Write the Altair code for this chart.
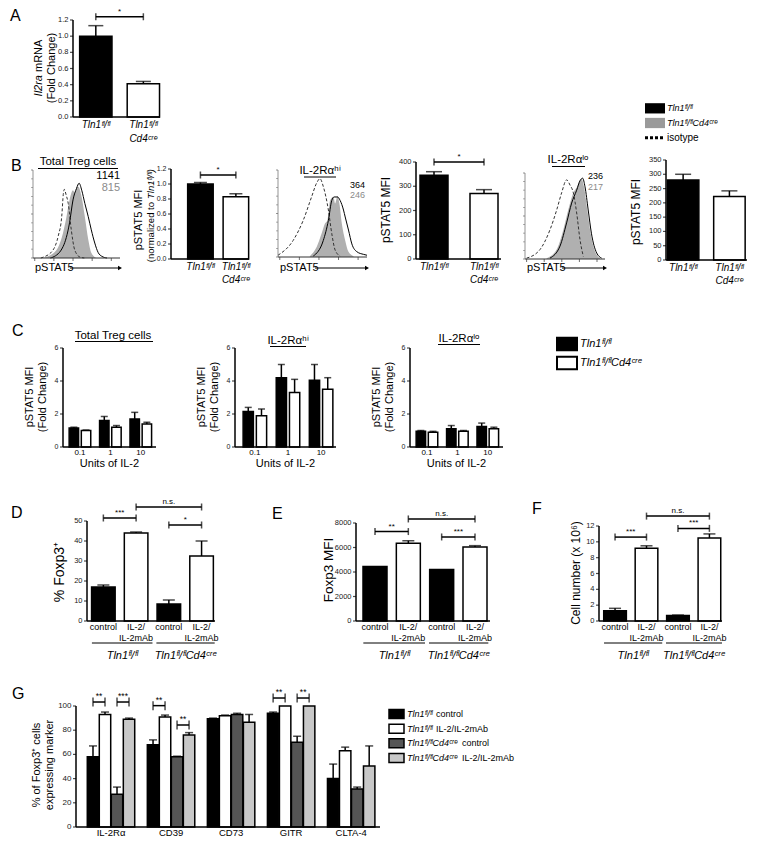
import altair as alt
import pandas as pd

W, H = 748, 832
OX, OY = 8, 8
FONT = "Liberation Sans"

TLN = "Tln1ᶠˡ/ᶠˡ"
CRE = "Cd4ᶜʳᵉ"
TLNCRE = TLN + CRE
HI = "IL-2Rαʰⁱ"
LO = "IL-2Rαˡᵒ"

# ---------------- DATA ----------------
# Panel A
a_labels = [TLN, TLN + "\n" + CRE]
a_vals = [1.0, 0.41]
a_errs = [0.13, 0.03]
a_yticks = [0, 0.2, 0.4, 0.6, 0.8, 1.0, 1.2]
a_ytick_labels = ["0.0", "0.2", "0.4", "0.6", "0.8", "1.0", "1.2"]

# Panel B bar charts
b_labels = [TLN, TLN + "\n" + CRE]
b2_vals = [1.0, 0.83]
b2_errs = [0.02, 0.04]
b2_yticks = [0, 0.2, 0.4, 0.6, 0.8, 1.0, 1.2]
b2_ytick_labels = ["0.0", "0.2", "0.4", "0.6", "0.8", "1.0", "1.2"]
b4_vals = [345, 270]
b4_errs = [15, 16]
b4_yticks = [0, 100, 200, 300, 400]
b6_vals = [280, 222]
b6_errs = [20, 20]
b6_yticks = [0, 50, 100, 150, 200, 250, 300, 350]
b_mfi_wt = ["1141", "364", "236"]
b_mfi_ko = ["815", "246", "217"]

# Panel B histograms (channel position 0-100, % of max)
h1_iso_x = [9, 12, 23, 29, 33, 35, 36, 38, 40.5, 44, 48, 54, 59]
h1_iso_y = [0, 1, 9, 25, 47, 74, 78, 72, 62, 32, 9, 1, 0]
h1_ko_x = [12, 15, 27, 33, 38.5, 42, 46, 48, 50, 52, 55.8, 59.6, 63.5, 67, 73]
h1_ko_y = [0, 1, 9, 23, 47, 66, 77, 74, 80, 81, 70, 47, 21, 6, 0]
h1_wt_x = [20, 23, 34.6, 42, 46, 50, 53, 56, 59.6, 63.5, 67, 71, 75, 79, 85]
h1_wt_y = [0, 1, 13, 40, 66, 79, 85, 77, 62, 47, 32, 17, 6, 2, 0]

h2_iso_x = [0, 17, 28.3, 37.7, 43.4, 47.2, 50.9, 56.6, 60.4, 64.2, 69.8]
h2_iso_y = [2, 19, 42, 69, 85, 90, 81, 54, 27, 8, 1]
h2_ko_x = [35.8, 43.4, 49, 52.8, 55.5, 58.5, 62.3, 64.2, 66.8, 69, 71.7, 75.5, 79.2, 84.9]
h2_ko_y = [1, 11.5, 27, 38.5, 42, 65, 69, 61.5, 70, 61.5, 38.5, 19, 6, 1]
h2_wt_x = [39.6, 50.9, 56.6, 60.4, 63, 66.8, 69.8, 73.6, 75.5, 79.2, 83, 88.7, 96.2, 100]
h2_wt_y = [1, 19, 42, 65, 69, 69, 65, 54, 46, 31, 15, 6, 3, 2]

h3_iso_x = [2, 18.75, 31.25, 39.6, 45.8, 52, 56.25, 60.4, 64.6, 68.75, 72.9]
h3_iso_y = [1, 11, 34, 57, 77, 92, 86, 77, 53.5, 22.5, 3]
h3_ko_x = [27, 39.6, 47.9, 54, 60.4, 64.6, 68.75, 70.8, 73.75, 77.9, 82, 87.5, 93.75]
h3_ko_y = [1, 11, 34, 57, 77, 83, 92, 93, 84, 57, 30, 9, 1]
h3_wt_x = [31.25, 43.75, 52, 58.3, 64.6, 68.75, 72, 75, 79, 83, 89.6, 95.8]
h3_wt_y = [1, 15, 42, 65, 80, 91, 94, 84, 57, 30, 7, 1]
hist_ticks = [2, 24, 46, 68, 90]

# Panel C
c_doses = ["0.1", "1", "10"]
c_yticks = [0, 2, 4, 6]
c1_wt = [1.15, 1.6, 1.7]
c1_wt_err = [0.05, 0.25, 0.4]
c1_ko = [1.0, 1.2, 1.4]
c1_ko_err = [0.03, 0.1, 0.1]
c2_wt = [2.15, 4.2, 4.05]
c2_wt_err = [0.25, 0.8, 0.95]
c2_ko = [1.9, 3.3, 3.5]
c2_ko_err = [0.4, 0.8, 0.7]
c3_wt = [0.95, 1.1, 1.25]
c3_wt_err = [0.05, 0.2, 0.2]
c3_ko = [0.9, 0.95, 1.1]
c3_ko_err = [0.05, 0.05, 0.1]

# Panels D, E, F
def_conditions = ["control", "IL-2/\nIL-2mAb", "control", "IL-2/\nIL-2mAb"]
def_genotypes = [TLN, TLNCRE]
d_vals = [17, 44, 8.5, 32.5]
d_errs = [1, 0.5, 2, 7.5]
d_yticks = [0, 10, 20, 30, 40, 50]
d_sig = [(0, 1, 51.5, "***"), (1, 3, 57, "n.s."), (2, 3, 48, "*")]
e_vals = [4450, 6350, 4200, 6050]
e_errs = [0, 200, 0, 100]
e_yticks = [0, 2000, 4000, 6000, 8000]
e_sig = [(0, 1, 7300, "**"), (1, 3, 8330, "n.s."), (2, 3, 6860, "***")]
f_vals = [1.3, 9.2, 0.7, 10.5]
f_errs = [0.3, 0.3, 0.05, 0.5]
f_yticks = [0, 2, 4, 6, 8, 10, 12]
f_sig = [(0, 1, 10.6, "***"), (1, 3, 13.25, "n.s."), (2, 3, 11.7, "***")]

# Panel G
g_markers = ["IL-2Rα", "CD39", "CD73", "GITR", "CLTA-4"]
g_groups = [TLN + " control", TLN + " IL-2/IL-2mAb", TLNCRE + " control", TLNCRE + " IL-2/IL-2mAb"]
g_wt_ctrl = [58, 68, 89.5, 94, 40]
g_wt_ctrl_err = [9, 4, 0.5, 1, 12]
g_wt_il2 = [93, 91, 92, 100, 63]
g_wt_il2_err = [2, 1.5, 0.5, 0, 3]
g_ko_ctrl = [27, 58, 93, 70, 31.5]
g_ko_ctrl_err = [6, 0.5, 1, 5, 1.5]
g_ko_il2 = [89, 76, 86.5, 100, 50.5]
g_ko_il2_err = [1, 2, 6.5, 0, 16.5]
g_yticks = [0, 20, 40, 60, 80, 100]
g_sig = [(0, 0, 1, 103.3, "**"), (0, 2, 3, 103.3, "***"), (1, 0, 1, 100.3, "**"),
         (1, 2, 3, 84.3, "**"), (3, 0, 1, 106.6, "**"), (3, 2, 3, 106.6, "**")]

# ---------------- HELPERS ----------------
def px(x):
    return x - OX


def py(y):
    return y - OY


def sx(d0, d1, r0, r1):
    return alt.Scale(domain=[d0, d1], range=[px(r0), px(r1)], nice=False, zero=False)


def sy(d0, d1, rbot, rtop):
    return alt.Scale(domain=[d0, d1], range=[py(rbot), py(rtop)], nice=False, zero=False)


def Xq(f, xs):
    return alt.X(f, type="quantitative", scale=xs, axis=None)


def Yq(f, ys):
    return alt.Y(f, type="quantitative", scale=ys, axis=None)


def y_axis(xs, ys, xd, ticks, labels=None, size=7.5, lw=1.5, tick=3, color="black"):
    """Axis line, outward ticks and labels drawn through the panel's own scales."""
    out = [alt.Chart(pd.DataFrame({"x": [xd], "a": [ticks[0]], "b": [ticks[-1]]})).mark_rule(
        color=color, strokeWidth=lw).encode(x=Xq("x", xs), y=Yq("a", ys), y2="b:Q")]
    tdf = pd.DataFrame({"x": [xd] * len(ticks), "v": ticks,
                        "lab": labels if labels is not None else [str(t) for t in ticks]})
    out.append(alt.Chart(tdf).mark_tick(orient="horizontal", size=tick, thickness=max(lw * 0.8, 0.8),
                                        color=color, xOffset=-tick / 2).encode(
        x=Xq("x", xs), y=Yq("v", ys)))
    if labels is not None or size > 0:
        out.append(alt.Chart(tdf).mark_text(align="right", baseline="middle", dx=-(tick + 1.5),
                                            fontSize=size, color="#1a1a1a", font=FONT).encode(
            x=Xq("x", xs), y=Yq("v", ys), text="lab:N"))
    return out


def x_axis(xs, ys, d0, d1, y0=0, lw=1.5, color="black"):
    return alt.Chart(pd.DataFrame({"a": [d0], "b": [d1], "y": [y0]})).mark_rule(
        color=color, strokeWidth=lw).encode(x=Xq("a", xs), x2="b:Q", y=Yq("y", ys))


def text(s, x, y, size=10, align="center", baseline="middle", angle=0, style="normal",
         weight="normal", color="black"):
    return alt.Chart(pd.DataFrame({"t": [s]})).mark_text(
        fontSize=size, align=align, baseline=baseline, angle=angle, fontStyle=style,
        fontWeight=weight, color=color, font=FONT).encode(
        x=alt.value(px(x)), y=alt.value(py(y)), text="t:N")


def hline(x0, x1, y, width=1.0, color="black"):
    return alt.Chart(pd.DataFrame({"a": [0]})).mark_rule(color=color, strokeWidth=width).encode(
        x=alt.value(px(x0)), x2=alt.value(px(x1)), y=alt.value(py(y)))


def bar_df(pos, vals, errs, grps):
    return pd.DataFrame({"pos": pos, "val": vals, "err": errs, "grp": grps,
                         "top": [v + e for v, e in zip(vals, errs)], "zero": [0] * len(vals)})


def sig_df(rows):
    return pd.DataFrame({"a": [r[0] for r in rows], "b": [r[1] for r in rows],
                         "lvl": [r[2] for r in rows], "lab": [r[3] for r in rows]})


def bars_panel(df, xs, ys, hw, capw, gdom, gcol, br=None, bcap=7, bfont=8, lw=1.5):
    fill = alt.Fill("grp:N", scale=alt.Scale(domain=gdom, range=gcol), legend=None)
    rect = alt.Chart(df).transform_calculate(
        x0=f"datum.pos - {hw}", x1=f"datum.pos + {hw}").mark_rect(
        stroke="black", strokeWidth=lw).encode(
        x=Xq("x0", xs), x2="x1:Q", y=Yq("val", ys), y2="zero:Q", fill=fill)
    eb = alt.Chart(df).transform_filter("datum.err > 0")
    erule = eb.mark_rule(color="black", strokeWidth=lw).encode(
        x=Xq("pos", xs), y=Yq("val", ys), y2="top:Q")
    ecap = eb.mark_tick(orient="horizontal", size=capw, thickness=lw, color="black").encode(
        x=Xq("pos", xs), y=Yq("top", ys))
    parts = [rect, erule, ecap]
    if br is not None:
        bb = alt.Chart(br).transform_calculate(mid="(datum.a + datum.b) / 2")
        parts += [
            bb.mark_rule(color="black", strokeWidth=lw).encode(x=Xq("a", xs), x2="b:Q", y=Yq("lvl", ys)),
            bb.mark_tick(orient="vertical", size=bcap, thickness=lw, color="black").encode(
                x=Xq("a", xs), y=Yq("lvl", ys)),
            bb.mark_tick(orient="vertical", size=bcap, thickness=lw, color="black").encode(
                x=Xq("b", xs), y=Yq("lvl", ys)),
            bb.mark_text(fontSize=bfont, dy=-3, baseline="alphabetic", font=FONT).encode(
                x=Xq("mid", xs), y=Yq("lvl", ys), text="lab:N"),
        ]
    return parts


def xlab_layer(pos, labels, xs, ytop, size=9, style="normal", lh=11):
    df = pd.DataFrame({"pos": pos, "lab": labels})
    return alt.Chart(df).mark_text(fontSize=size, fontStyle=style, baseline="top", lineBreak="\n",
                                   lineHeight=lh, font=FONT, color="black").encode(
        x=Xq("pos", xs), y=alt.value(py(ytop)), text="lab:N")


def hist_panel(iso_x, iso_y, ko_x, ko_y, wt_x, wt_y, x0, x1, ybot, ytop):
    xs = sx(0, 100, x0, x1)
    ys = sy(0, 100, ybot, ytop)
    ko = alt.Chart(pd.DataFrame({"u": ko_x, "h": ko_y})).mark_area(
        color="#b0b0b0", interpolate="monotone").encode(x=Xq("u", xs), y=Yq("h", ys))
    iso = alt.Chart(pd.DataFrame({"u": iso_x, "h": iso_y})).mark_line(
        color="#333", strokeDash=[3, 2], strokeWidth=1, interpolate="monotone").encode(
        x=Xq("u", xs), y=Yq("h", ys))
    wt = alt.Chart(pd.DataFrame({"u": wt_x, "h": wt_y})).mark_line(
        color="black", strokeWidth=1, interpolate="monotone").encode(x=Xq("u", xs), y=Yq("h", ys))
    out = [ko, iso, wt]
    out += y_axis(xs, ys, 0, list(range(0, 101, 10)), labels=[""] * 11, size=1, lw=0.7, tick=2,
                  color="#666")
    out.append(x_axis(xs, ys, 0, 100, lw=1, color="#333"))
    out.append(alt.Chart(pd.DataFrame({"v": hist_ticks, "y": [0] * len(hist_ticks)})).mark_tick(
        orient="vertical", size=3, thickness=1, color="#333", yOffset=1.5).encode(
        x=Xq("v", xs), y=Yq("y", ys)))
    return out


def pstat5_label(x0, x1, y):
    tri = alt.Chart(pd.DataFrame({"a": [0]})).mark_point(
        shape="triangle-right", filled=True, size=22, color="black", opacity=1).encode(
        x=alt.value(px(x1)), y=alt.value(py(y)))
    return [text("pSTAT5", x0 + 2, y, size=11, align="left"), hline(x0 + 37, x1, y, 1), tri]


layers = []

# ---------------- PANEL LETTERS ----------------
for lab, x, y in [("A", 10, 21), ("B", 11, 171), ("C", 12, 336), ("D", 11, 518),
                  ("E", 272, 519), ("F", 532, 514), ("G", 12, 699)]:
    layers.append(text(lab, x, y, size=16, align="left", baseline="alphabetic"))

# ---------------- PANEL A ----------------
xsA = sx(-0.48, 1.35, 73, 160)
ysA = sy(0, 1.2, 117, 20)
layers += bars_panel(bar_df([0, 1], a_vals, a_errs, ["wt", "ko"]), xsA, ysA, hw=0.34, capw=15,
                     gdom=["wt", "ko"], gcol=["black", "white"], br=sig_df([(0, 1, 1.24, "*")]))
layers += y_axis(xsA, ysA, -0.48, a_yticks, a_ytick_labels)
layers.append(x_axis(xsA, ysA, -0.48, 1.35))
layers.append(xlab_layer([0, 1], a_labels, xsA, 120, size=10, style="italic", lh=14))
layers.append(text("Il2ra", 39, 75, size=11, angle=270, style="italic", align="right"))
layers.append(text("mRNA", 39, 72, size=11, angle=270, align="left"))
layers.append(text("(Fold Change)", 52, 68, size=11, angle=270))

# ---------------- PANEL B ----------------
hist_specs = [
    (h1_iso_x, h1_iso_y, h1_ko_x, h1_ko_y, h1_wt_x, h1_wt_y, 33, 120, 258, 170),
    (h2_iso_x, h2_iso_y, h2_ko_x, h2_ko_y, h2_wt_x, h2_wt_y, 278, 367, 257, 170),
    (h3_iso_x, h3_iso_y, h3_ko_x, h3_ko_y, h3_wt_x, h3_wt_y, 525, 605, 259, 173),
]
for spec in hist_specs:
    layers += hist_panel(*spec)
    layers += pstat5_label(spec[6], spec[7], 268)

layers.append(text("Total Treg cells", 78, 162, size=11.5))
layers.append(hline(38, 118, 168.5, 1))
layers.append(text(HI, 320, 171, size=11.5))
layers.append(hline(304, 336, 177, 1))
layers.append(text(LO, 568, 160, size=11.5))
layers.append(hline(552, 585, 166.5, 1))
layers.append(text(b_mfi_wt[0], 120, 176, size=11, align="right"))
layers.append(text(b_mfi_ko[0], 120, 188, size=11, align="right", color="#8a8a8a"))
layers.append(text(b_mfi_wt[1], 365, 185, size=9, align="right"))
layers.append(text(b_mfi_ko[1], 365, 195, size=9, align="right", color="#8a8a8a"))
layers.append(text(b_mfi_wt[2], 603, 176, size=9, align="right"))
layers.append(text(b_mfi_ko[2], 603, 186.5, size=9, align="right", color="#8a8a8a"))

# bar charts
xsB2 = sx(-0.83, 1.37, 171, 249)
ysB2 = sy(0, 1.2, 259, 169)
layers += bars_panel(bar_df([0, 1], b2_vals, b2_errs, ["wt", "ko"]), xsB2, ysB2, hw=0.36, capw=13,
                     gdom=["wt", "ko"], gcol=["black", "white"], br=sig_df([(0, 1, 1.12, "*")]))
layers += y_axis(xsB2, ysB2, -0.83, b2_yticks, b2_ytick_labels, size=7)
layers.append(x_axis(xsB2, ysB2, -0.83, 1.37))
layers.append(xlab_layer([0, 1], b_labels, xsB2, 262, size=10, style="italic", lh=13))
layers.append(text("pSTAT5 MFI", 139, 220, size=11, angle=270))
layers.append(text("(normalized to", 151, 202, size=9.5, angle=270, align="right"))
layers.append(text(TLN + ")", 151, 199, size=9.5, angle=270, align="left", style="italic"))

xsB4 = sx(-0.36, 1.34, 416, 501)
ysB4 = sy(0, 400, 259, 162)
layers += bars_panel(bar_df([0, 1], b4_vals, b4_errs, ["wt", "ko"]), xsB4, ysB4, hw=0.28, capw=16,
                     gdom=["wt", "ko"], gcol=["black", "white"], br=sig_df([(0, 1, 400, "*")]))
layers += y_axis(xsB4, ysB4, -0.36, b4_yticks)
layers.append(x_axis(xsB4, ysB4, -0.36, 1.34))
layers.append(xlab_layer([0, 1], b_labels, xsB4, 262, size=10, style="italic", lh=13))
layers.append(text("pSTAT5 MFI", 386, 210, size=12, angle=270))

xsB6 = sx(-0.37, 1.38, 666, 747)
ysB6 = sy(0, 350, 260, 160)
layers += bars_panel(bar_df([0, 1], b6_vals, b6_errs, ["wt", "ko"]), xsB6, ysB6, hw=0.34, capw=16,
                     gdom=["wt", "ko"], gcol=["black", "white"])
layers += y_axis(xsB6, ysB6, -0.37, b6_yticks)
layers.append(x_axis(xsB6, ysB6, -0.37, 1.38))
layers.append(xlab_layer([0, 1], b_labels, xsB6, 263, size=10, style="italic", lh=13))
layers.append(text("pSTAT5 MFI", 636, 212, size=12, angle=270))

# legend B
legB = [TLN, TLNCRE, "isotype"]
lsB = alt.Scale(type="band", domain=legB, range=[py(101), py(145)], paddingInner=0.3, paddingOuter=0.15)
layers.append(alt.Chart(pd.DataFrame({"item": legB[:2]})).mark_rect().encode(
    x=alt.value(px(645)), x2=alt.value(px(665)), y=alt.Y("item:N", scale=lsB, axis=None),
    fill=alt.Fill("item:N", scale=alt.Scale(domain=legB[:2], range=["black", "#9a9a9a"]), legend=None)))
layers.append(alt.Chart(pd.DataFrame({"item": legB[2:]})).mark_rule(
    color="black", strokeWidth=3, strokeDash=[3, 2]).encode(
    x=alt.value(px(645)), x2=alt.value(px(665)), y=alt.Y("item:N", scale=lsB, axis=None)))
layers.append(alt.Chart(pd.DataFrame({"item": legB[:2]})).mark_text(
    align="left", baseline="middle", fontSize=9, fontStyle="italic", font=FONT).encode(
    x=alt.value(px(667)), y=alt.Y("item:N", scale=lsB, axis=None), text="item:N"))
layers.append(alt.Chart(pd.DataFrame({"item": legB[2:]})).mark_text(
    align="left", baseline="middle", fontSize=10, font=FONT).encode(
    x=alt.value(px(667)), y=alt.Y("item:N", scale=lsB, axis=None), text="item:N"))

# ---------------- PANEL C ----------------
c_specs = [
    (c1_wt, c1_wt_err, c1_ko, c1_ko_err, 63, -0.557, 2.5, 156, "Total Treg cells", 113, 336, 75, 153),
    (c2_wt, c2_wt_err, c2_ko, c2_ko_err, 235, -0.6, 2.45, 336, HI, 288, 341, 270, 306),
    (c3_wt, c3_wt_err, c3_ko, c3_ko_err, 410, -0.557, 2.5, 503, LO, 459, 339, 438, 480),
]
for (wv, we, kv, ke, ax, d0, d1, xend, title, tx, ty, ul0, ul1) in c_specs:
    xs = sx(d0, d1, ax, xend)
    ys = sy(0, 6, 447, 348)
    pos = [g - 0.2 for g in range(3)] + [g + 0.2 for g in range(3)]
    df = bar_df(pos, wv + kv, we + ke, ["wt"] * 3 + ["ko"] * 3)
    layers += bars_panel(df, xs, ys, hw=0.155, capw=7, gdom=["wt", "ko"], gcol=["black", "white"])
    layers += y_axis(xs, ys, d0, c_yticks, size=7)
    layers.append(x_axis(xs, ys, d0, d1))
    layers.append(xlab_layer([0, 1, 2], c_doses, xs, 449, size=8))
    layers.append(text("Units of IL-2", (ax + xend) / 2, 464, size=11))
    layers.append(text("pSTAT5 MFI", ax - 33, 397, size=11, angle=270))
    layers.append(text("(Fold Change)", ax - 20, 397, size=11, angle=270))
    layers.append(text(title, tx, ty, size=11.5))
    layers.append(hline(ul0, ul1, ty + 5.5, 1))

legC = [TLN, TLNCRE]
lsC = alt.Scale(type="band", domain=legC, range=[py(334.5), py(372.5)], paddingInner=0.35, paddingOuter=0.175)
layers.append(alt.Chart(pd.DataFrame({"item": legC})).mark_rect(stroke="black", strokeWidth=2).encode(
    x=alt.value(px(557)), x2=alt.value(px(577)), y=alt.Y("item:N", scale=lsC, axis=None),
    fill=alt.Fill("item:N", scale=alt.Scale(domain=legC, range=["black", "white"]), legend=None)))
layers.append(alt.Chart(pd.DataFrame({"item": legC})).mark_text(
    align="left", baseline="middle", fontSize=11, fontStyle="italic", font=FONT).encode(
    x=alt.value(px(580)), y=alt.Y("item:N", scale=lsC, axis=None), text="item:N"))

# ---------------- PANELS D, E, F ----------------
GROUP_SPANS = [(-0.35, 1.5), (1.62, 3.4)]
def_specs = [
    (d_vals, d_errs, d_sig, d_yticks, 87, -0.5, 3.41, 215, 50, 521, ("% Foxp3⁺", 60, 572, 14)),
    (e_vals, e_errs, e_sig, e_yticks, 356, -0.57, 3.45, 490, 8000, 523, ("Foxp3 MFI", 329, 570, 13.5)),
    (f_vals, f_errs, f_sig, f_yticks, 599, -0.51, 3.4, 722, 12, 526, ("Cell number (x 10⁶)", 576, 573, 12)),
]
for (vals, errs, sig, yt, ax, d0, d1, xend, ymax, ytop, ttl) in def_specs:
    xs = sx(d0, d1, ax, xend)
    ys = sy(0, ymax, 621, ytop)
    df = bar_df([0, 1, 2, 3], vals, errs, ["ctrl", "il2", "ctrl", "il2"])
    layers += bars_panel(df, xs, ys, hw=0.36, capw=12, gdom=["ctrl", "il2"],
                         gcol=["black", "white"], br=sig_df(sig))
    layers += y_axis(xs, ys, d0, yt, size=7.5)
    layers.append(x_axis(xs, ys, d0, d1))
    layers.append(xlab_layer([0, 1, 2, 3], def_conditions, xs, 623, size=9, lh=11))
    gdf = pd.DataFrame({"a": [s[0] for s in GROUP_SPANS], "b": [s[1] for s in GROUP_SPANS],
                        "lab": def_genotypes})
    layers.append(alt.Chart(gdf).mark_rule(color="black", strokeWidth=1).encode(
        x=Xq("a", xs), x2="b:Q", y=alt.value(py(643))))
    layers.append(alt.Chart(gdf).transform_calculate(mid="(datum.a + datum.b) / 2").mark_text(
        fontSize=11, fontStyle="italic", baseline="top", font=FONT).encode(
        x=Xq("mid", xs), y=alt.value(py(650)), text="lab:N"))
    layers.append(text(ttl[0], ttl[1], ttl[2], size=ttl[3], angle=270))

# ---------------- PANEL G ----------------
G_OFFS = [-0.3, -0.1, 0.1, 0.3]
G_COLORS = ["black", "white", "#555555", "#c8c8c8"]
g_series = [(g_wt_ctrl, g_wt_ctrl_err), (g_wt_il2, g_wt_il2_err),
            (g_ko_ctrl, g_ko_ctrl_err), (g_ko_il2, g_ko_il2_err)]
gpos, gval, gerr, ggrp = [], [], [], []
for gi, (vals, errs) in enumerate(g_series):
    for ci in range(len(g_markers)):
        gpos.append(ci + G_OFFS[gi])
        gval.append(vals[ci])
        gerr.append(errs[ci])
        ggrp.append(g_groups[gi])
xsG = sx(-0.583, 4.48, 76, 380)
ysG = sy(0, 100, 827, 706)
gsig = sig_df([(c + G_OFFS[a], c + G_OFFS[b], lvl, lab) for (c, a, b, lvl, lab) in g_sig])
layers += bars_panel(bar_df(gpos, gval, gerr, ggrp), xsG, ysG, hw=0.095, capw=8, gdom=g_groups,
                     gcol=G_COLORS, br=gsig, bcap=9, bfont=8.5)
layers += y_axis(xsG, ysG, -0.583, g_yticks, size=8)
layers.append(x_axis(xsG, ysG, -0.583, 4.48))
layers.append(xlab_layer(list(range(5)), g_markers, xsG, 828, size=9.5))
layers.append(text("% of Foxp3⁺ cells", 37, 765, size=11, angle=270))
layers.append(text("expressing marker", 50, 765, size=11, angle=270))

lsG = alt.Scale(type="band", domain=g_groups, range=[py(706.7), py(765.3)], paddingInner=0.38, paddingOuter=0.19)
layers.append(alt.Chart(pd.DataFrame({"item": g_groups})).mark_rect(stroke="black", strokeWidth=1.5).encode(
    x=alt.value(px(389)), x2=alt.value(px(404)), y=alt.Y("item:N", scale=lsG, axis=None),
    fill=alt.Fill("item:N", scale=alt.Scale(domain=g_groups, range=G_COLORS), legend=None)))
gl = pd.DataFrame({"item": g_groups, "geno": [TLN, TLN, TLNCRE, TLNCRE],
                   "cond": ["control", "IL-2/IL-2mAb", "control", "IL-2/IL-2mAb"]})
layers.append(alt.Chart(gl).mark_text(align="left", baseline="middle", fontSize=9, fontStyle="italic", font=FONT).encode(
    x=alt.value(px(407)), y=alt.Y("item:N", scale=lsG, axis=None), text="geno:N"))
layers.append(alt.Chart(gl.iloc[:2]).mark_text(align="left", baseline="middle", fontSize=9, font=FONT).encode(
    x=alt.value(px(436)), y=alt.Y("item:N", scale=lsG, axis=None), text="cond:N"))
layers.append(alt.Chart(gl.iloc[2:]).mark_text(align="left", baseline="middle", fontSize=9, font=FONT).encode(
    x=alt.value(px(462)), y=alt.Y("item:N", scale=lsG, axis=None), text="cond:N"))

chart = alt.layer(*layers).resolve_scale(
    x="independent", y="independent", fill="independent").properties(
    width=W, height=H, autosize=alt.AutoSizeParams(type="none"), padding=0).configure_view(stroke=None)

chart.save("out.html", embed_options={"renderer": "svg", "actions": False})
